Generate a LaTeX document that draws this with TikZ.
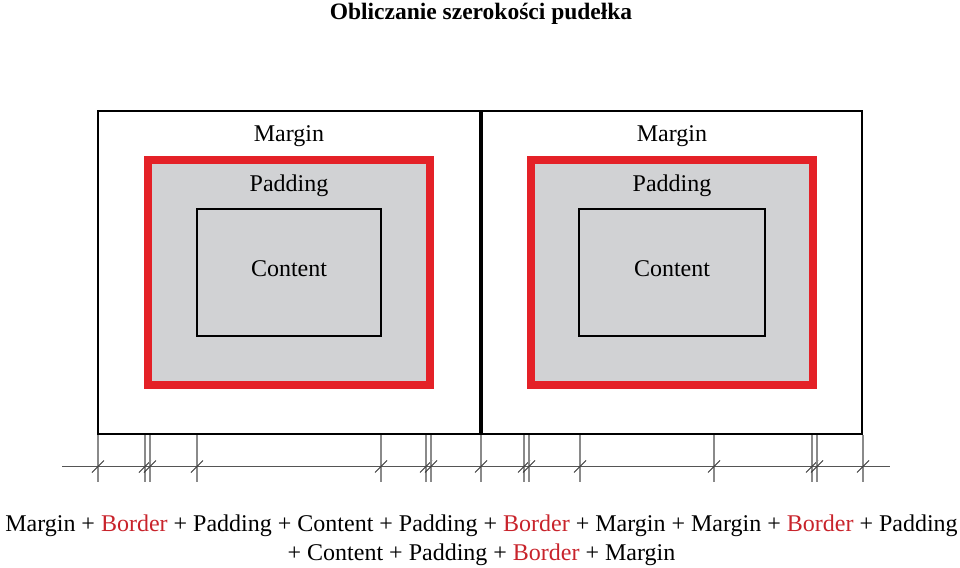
\documentclass[tikz,border=0pt]{standalone}
\usepackage{fontspec}
\setmainfont{Liberation Serif}
\definecolor{bred}{HTML}{E42127}
\definecolor{tred}{HTML}{C8232B}
\definecolor{bgray}{HTML}{D1D2D4}
\definecolor{dimgray}{HTML}{8A8A8A}
\definecolor{dimdark}{HTML}{555555}
\tikzset{
  outerbox/.style={draw=black, line width=2pt, inner sep=0pt},
  borderbox/.style={draw=bred, fill=bgray, line width=8pt, inner sep=0pt},
  contentbox/.style={draw=black, line width=2pt, inner sep=0pt},
  lbl/.style={font=\fontsize{24}{28}\selectfont, inner sep=0pt, anchor=base},
  extline/.style={draw=dimgray, line width=1.2pt},
  dimline/.style={draw=dimdark, line width=1pt},
  tickmark/.style={draw=black!80, line width=0.8pt},
}
\begin{document}
\begin{tikzpicture}[x=1pt,y=-1pt]
\useasboundingbox (0,0) rectangle (960,567);
% title
\node[font=\bfseries\fontsize{23.5}{27}\selectfont, inner sep=0pt, anchor=base] (title) at (481,20) {Obliczanie szerokości pudełka};
% left box
\node[outerbox, minimum width=382pt, minimum height=323pt] (outerL) at (289,272.5) {};
\node[borderbox, minimum width=282pt, minimum height=225pt] (borderL) at (289,272.5) {};
\node[contentbox, minimum width=184pt, minimum height=127pt] (contentL) at (289,272.5) {};
% right box
\node[outerbox, minimum width=380pt, minimum height=323pt] (outerR) at (672,272.5) {};
\node[borderbox, minimum width=282pt, minimum height=225pt] (borderR) at (672,272.5) {};
\node[contentbox, minimum width=186pt, minimum height=127pt] (contentR) at (672,272.5) {};
% labels
\node[lbl] (marginL) at (289,141) {Margin};
\node[lbl] (paddingL) at (289,191) {Padding};
\node[lbl] (contentLt) at (289,276) {Content};
\node[lbl] (marginR) at (672,141) {Margin};
\node[lbl] (paddingR) at (672,191) {Padding};
\node[lbl] (contentRt) at (672,276) {Content};
% dimension line
\coordinate (dA) at (62,466.5);
\coordinate (dB) at (890,466.5);
\draw[dimline] (dA) -- (dB);
\foreach \xx [count=\i] in {98,145,150,197,381,426,431,481,524,529,580,714,812,817,863}{
  \coordinate (t\i) at (\xx,435);
  \coordinate (b\i) at (\xx,482);
  \draw[extline] (t\i) -- (b\i);
  \coordinate (s\i) at (\xx,466.5);
  \draw[tickmark] ([shift={(-6,6)}]s\i) -- ([shift={(6,-6)}]s\i);
}
% formula
\node[lbl] (sum1) at (481.5,531) {Margin + \textcolor{tred}{Border} + Padding + Content + Padding + \textcolor{tred}{Border} + Margin + Margin + \textcolor{tred}{Border} + Padding};
\node[lbl] (sum2) at (481.5,560) {+ Content + Padding + \textcolor{tred}{Border} + Margin};
\end{tikzpicture}
\end{document}
